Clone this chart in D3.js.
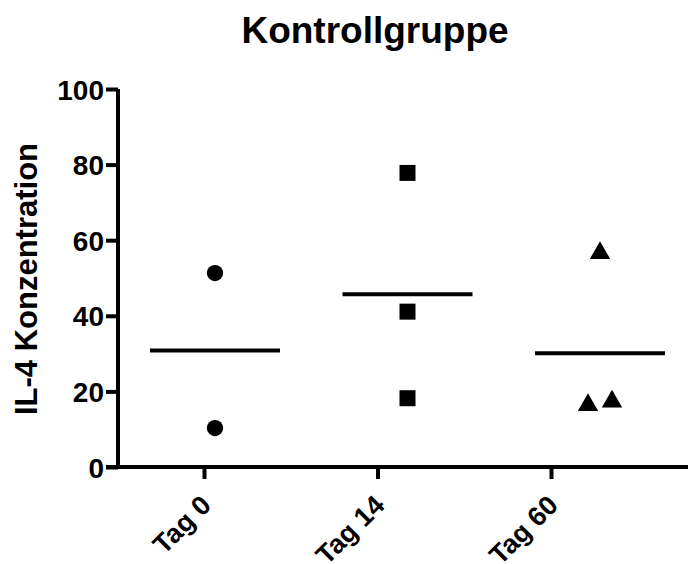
<!DOCTYPE html>
<html>
<head>
<meta charset="utf-8">
<script src="https://cdn.jsdelivr.net/npm/d3@7"></script>
<style>
body{margin:0;background:#fff;}
text{font-family:"Liberation Sans",Arial,sans-serif;font-weight:bold;fill:#000;}
</style>
</head>
<body>
<div id="chart"></div>
<script>
var categories=["Tag 0","Tag 14","Tag 60"];
var symbols=["circle","square","triangle"];
var tag0=[51.3,10.3];
var tag14=[77.8,41.1,18.2];
var tag60=[56.6,16.4,17.3];
var tag60Offset=[0,-12,12];
var yTicks=[0,20,40,60,80,100];
var title="Kontrollgruppe",yLabel="IL-4 Konzentration";

var series=[tag0,tag14,tag60];
var width=688,height=564;
var svg=d3.select("#chart").append("svg").attr("width",width).attr("height",height);

var y=d3.scaleLinear().domain([0,100]).range([467,89]);
var xData=d3.scalePoint().domain(categories).range([215,600]);
var xTick=d3.scalePoint().domain(categories).range([204,551]);

// y axis
var yAxis=d3.axisLeft(y).tickValues(yTicks).tickSize(12).tickPadding(2).tickFormat(d3.format("d"));
var gy=svg.append("g").attr("transform","translate(118,0)").call(yAxis);
gy.select(".domain").attr("d","M0,"+y(100)+"V"+y(0)).attr("stroke","#000").attr("stroke-width",4);
gy.selectAll(".tick line").attr("stroke","#000").attr("stroke-width",4);
gy.selectAll(".tick text").style("font-size","28px").attr("dy","0.36em");

// x axis
var xAxis=d3.axisBottom(xTick).tickSize(12).tickFormat("");
var gx=svg.append("g").attr("transform","translate(0,"+y(0)+")").call(xAxis);
gx.select(".domain").attr("d","M106,0H"+width).attr("stroke","#000").attr("stroke-width",4);
gx.selectAll(".tick line").attr("stroke","#000").attr("stroke-width",4);
gx.selectAll(".tick").append("text")
    .attr("text-anchor","end")
    .attr("transform","translate(8,40) rotate(-45)")
    .style("font-size","27px")
    .text(function(d){return d;});

// points
var sym={circle:d3.symbolCircle,square:d3.symbolSquare,triangle:d3.symbolTriangle};
var symSize={circle:210,square:256,triangle:180};
series.forEach(function(vals,i){
    var cx=xData(categories[i]);
    var s=symbols[i];
    var gen=d3.symbol().type(sym[s]).size(symSize[s]);
    svg.append("g").selectAll("path").data(vals).enter().append("path")
        .attr("d",gen)
        .attr("fill","#000")
        .attr("transform",function(d,j){
            var off=i===2?tag60Offset[j]:0;
            return "translate("+(cx+off)+","+y(d)+")";
        });
    var m=d3.mean(vals);
    svg.append("line")
        .attr("x1",cx-65).attr("x2",cx+65)
        .attr("y1",y(m)).attr("y2",y(m))
        .attr("stroke","#000").attr("stroke-width",4);
});

svg.append("text").attr("x",375).attr("y",43).attr("text-anchor","middle")
    .style("font-size","37px").text(title);
svg.append("text").attr("transform","translate(37,279) rotate(-90)").attr("text-anchor","middle")
    .style("font-size","31px").text(yLabel);
</script>
</body>
</html>
